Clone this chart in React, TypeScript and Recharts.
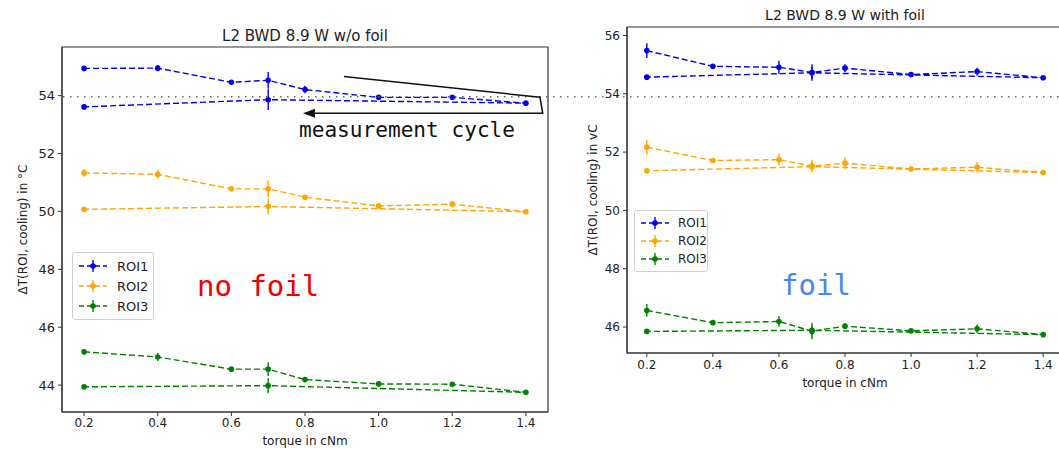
import React from 'react';
import { LineChart, Line, XAxis, YAxis, ErrorBar, ReferenceArea, Legend } from 'recharts';

// measurement cycle order of torque values (up to 1.4, then back via 0.7 to 0.2)
const cycleTorque = [0.2, 0.4, 0.6, 0.7, 0.8, 1.0, 1.2, 1.4, 0.7, 0.2];
const xTicks = [0.2, 0.4, 0.6, 0.8, 1.0, 1.2, 1.4];
const leftYTicks = [44, 46, 48, 50, 52, 54];
const rightYTicks = [46, 48, 50, 52, 54, 56];
const seriesNames = ['ROI1', 'ROI2', 'ROI3'];
const seriesColors = ['#0000ee', '#ffa500', '#008000'];

// L2 BWD 8.9 W w/o foil
const noFoilROI1 = [54.94, 54.95, 54.46, 54.53, 54.21, 53.94, 53.94, 53.74, 53.86, 53.61];
const noFoilROI1Err = [0.05, 0.11, 0.04, 0.29, 0.13, 0.03, 0.05, 0.03, 0.36, 0.04];
const noFoilROI2 = [51.33, 51.28, 50.78, 50.78, 50.49, 50.19, 50.25, 49.99, 50.17, 50.07];
const noFoilROI2Err = [0.13, 0.15, 0.04, 0.28, 0.06, 0.04, 0.11, 0.03, 0.27, 0.04];
const noFoilROI3 = [45.15, 44.97, 44.55, 44.55, 44.19, 44.04, 44.03, 43.75, 43.98, 43.94];
const noFoilROI3Err = [0.1, 0.14, 0.04, 0.24, 0.05, 0.05, 0.05, 0.03, 0.26, 0.03];

// L2 BWD 8.9 W with foil
const foilROI1 = [55.48, 54.94, 54.91, 54.73, 54.88, 54.66, 54.76, 54.55, 54.72, 54.57];
const foilROI1Err = [0.25, 0.05, 0.22, 0.28, 0.13, 0.04, 0.13, 0.04, 0.2, 0.04];
const foilROI2 = [52.17, 51.71, 51.74, 51.52, 51.62, 51.42, 51.48, 51.3, 51.5, 51.36];
const foilROI2Err = [0.25, 0.06, 0.2, 0.22, 0.2, 0.05, 0.18, 0.04, 0.15, 0.04];
const foilROI3 = [46.57, 46.15, 46.19, 45.86, 46.03, 45.87, 45.94, 45.74, 45.89, 45.85];
const foilROI3Err = [0.22, 0.04, 0.18, 0.28, 0.08, 0.05, 0.15, 0.04, 0.15, 0.04];

const xDomain: [number, number] = [0.14, 1.46];
const leftYDomain: [number, number] = [43.07, 55.68];
const rightYDomain: [number, number] = [45.11, 56.29];

const mk = (ys: number[], errs: number[]) => cycleTorque.map((x, i) => ({ x, y: ys[i], err: errs[i] }));

const leftSeries = [mk(noFoilROI1, noFoilROI1Err), mk(noFoilROI2, noFoilROI2Err), mk(noFoilROI3, noFoilROI3Err)];
const rightSeries = [mk(foilROI1, foilROI1Err), mk(foilROI2, foilROI2Err), mk(foilROI3, foilROI3Err)];

const FONT = 'DejaVu Sans, sans-serif';
const MONO = 'DejaVu Sans Mono, monospace';

const makeLegend = (fontSize: number, rowH: number, w: number) => () => (
  <div
    style={{
      background: '#fff',
      border: '1px solid #d0d0d0',
      borderRadius: 3,
      width: w,
      padding: '3px 0',
      boxSizing: 'border-box',
      fontFamily: FONT,
      fontSize,
      color: '#222',
    }}
  >
    {seriesNames.map((n, i) => (
      <div key={n} style={{ display: 'flex', alignItems: 'center', height: rowH }}>
        <svg width={36} height={rowH} style={{ marginLeft: 4 }}>
          <line x1={2} x2={30} y1={rowH / 2} y2={rowH / 2} stroke={seriesColors[i]} strokeWidth={1.3} strokeDasharray="5 3" />
          <line x1={16} x2={16} y1={rowH / 2 - 6} y2={rowH / 2 + 6} stroke={seriesColors[i]} strokeWidth={1.4} />
          <circle cx={16} cy={rowH / 2} r={2.8} fill={seriesColors[i]} />
        </svg>
        <span style={{ marginLeft: 4 }}>{n}</span>
      </div>
    ))}
  </div>
);

const yLabel = (text: string, unit: string, dx: number, fontSize: number) => (props: any) => {
  const vb = props.viewBox || { x: 0, y: 0, width: 0, height: 0 };
  const x = vb.x + dx;
  const y = vb.y + vb.height / 2;
  return (
    <text
      x={x}
      y={y}
      transform={`rotate(-90 ${x} ${y})`}
      textAnchor="middle"
      dominantBaseline="central"
      fontFamily={FONT}
      fontSize={fontSize}
      fill="#222"
    >
      ΔT<tspan>{text}</tspan>
      <tspan>{unit}</tspan>
    </text>
  );
};

const xLabel = (text: string, dy: number, fontSize: number) => (props: any) => {
  const vb = props.viewBox || { x: 0, y: 0, width: 0, height: 0 };
  return (
    <text
      x={vb.x + vb.width / 2}
      y={vb.y + dy}
      textAnchor="middle"
      dominantBaseline="central"
      fontFamily={FONT}
      fontSize={fontSize}
      fill="#222"
    >
      {text}
    </text>
  );
};

const renderSeries = (series: { x: number; y: number; err: number }[][]) =>
  series.map((d, i) => (
    <Line
      key={seriesNames[i]}
      name={seriesNames[i]}
      data={d}
      dataKey="y"
      type="linear"
      stroke={seriesColors[i]}
      strokeWidth={1.4}
      strokeDasharray="6 3"
      dot={{ r: 2.8, fill: seriesColors[i], stroke: seriesColors[i], strokeWidth: 0 }}
      activeDot={false}
      isAnimationActive={false}
    >
      <ErrorBar dataKey="err" width={0} stroke={seriesColors[i]} strokeWidth={1.4} direction="y" />
    </Line>
  ));

export default function App() {
  return (
    <div
      style={{
        position: 'fixed',
        left: 0,
        top: 0,
        width: 1059,
        height: 449,
        overflow: 'hidden',
        background: '#fff',
      }}
    >
      <div style={{ position: 'absolute', left: 0, top: 0 }}>
        <LineChart width={560} height={470} margin={{ top: 47, right: 12, bottom: 18, left: 12 }}>
          <XAxis
            type="number"
            dataKey="x"
            domain={xDomain}
            ticks={xTicks}
            allowDataOverflow
            tickFormatter={(v: number) => v.toFixed(1)}
            tick={{ fontSize: 12, fill: '#222', fontFamily: FONT }}
            tickSize={4}
            tickMargin={2}
            height={40}
            stroke="#333"
            label={{ content: xLabel('torque in cNm', 29, 12) } as any}
          />
          <YAxis
            type="number"
            domain={leftYDomain}
            ticks={leftYTicks}
            allowDataOverflow
            tick={{ fontSize: 13, fill: '#222', fontFamily: FONT }}
            tickSize={4}
            tickMargin={3}
            width={50}
            stroke="#333"
            label={{ content: yLabel('(ROI, cooling) in ', '°C', 11, 12) } as any}
          />
          <ReferenceArea
            x1={xDomain[0]}
            x2={xDomain[1]}
            y1={leftYDomain[0]}
            y2={leftYDomain[1]}
            fill="none"
            stroke="#333"
            strokeWidth={1.2}
            ifOverflow="visible"
          />
          {renderSeries(leftSeries)}
          <Legend
            layout="vertical"
            align="center"
            verticalAlign="middle"
            wrapperStyle={{ left: 72, top: 252, width: 82 }}
            content={makeLegend(13, 20, 82)}
          />
        </LineChart>
      </div>

      <div style={{ position: 'absolute', left: 570, top: 0 }}>
        <LineChart width={500} height={400} margin={{ top: 27, right: 7, bottom: 7, left: 7 }}>
          <XAxis
            type="number"
            dataKey="x"
            domain={xDomain}
            ticks={xTicks}
            allowDataOverflow
            tickFormatter={(v: number) => v.toFixed(1)}
            tick={{ fontSize: 12, fill: '#222', fontFamily: FONT }}
            tickSize={4}
            tickMargin={3}
            height={40}
            stroke="#333"
            label={{ content: xLabel('torque in cNm', 30, 12) } as any}
          />
          <YAxis
            type="number"
            domain={rightYDomain}
            ticks={rightYTicks}
            allowDataOverflow
            tick={{ fontSize: 12, fill: '#222', fontFamily: FONT }}
            tickSize={4}
            tickMargin={3}
            width={50}
            stroke="#333"
            label={{ content: yLabel('(ROI, cooling) in ', 'vC', 16, 12) } as any}
          />
          <ReferenceArea
            x1={xDomain[0]}
            x2={xDomain[1]}
            y1={rightYDomain[0]}
            y2={rightYDomain[1]}
            fill="none"
            stroke="#333"
            strokeWidth={1.2}
            ifOverflow="visible"
          />
          {renderSeries(rightSeries)}
          <Legend
            layout="vertical"
            align="center"
            verticalAlign="middle"
            wrapperStyle={{ left: 64, top: 210, width: 74 }}
            content={makeLegend(12, 18, 74)}
          />
        </LineChart>
      </div>

      <svg
        width={1059}
        height={449}
        style={{ position: 'absolute', left: 0, top: 0, pointerEvents: 'none' }}
      >
        <text x={305} y={36} textAnchor="middle" dominantBaseline="central" fontFamily={FONT} fontSize={15} fill="#222">
          L2 BWD 8.9 W w/o foil
        </text>
        <text x={845} y={15} textAnchor="middle" dominantBaseline="central" fontFamily={FONT} fontSize={14} fill="#222">
          L2 BWD 8.9 W with foil
        </text>
        <line x1={63} x2={1059} y1={96.7} y2={96.7} stroke="#666" strokeWidth={1.5} strokeDasharray="1.5 5.5" />
        <polyline
          points="344,76.5 540,97.3 542.7,113.3 314,113.3"
          fill="none"
          stroke="#111"
          strokeWidth={1.5}
        />
        <polygon points="303,113.3 315,108.8 315,117.8" fill="#111" />
        <text
          x={299}
          y={129.5}
          dominantBaseline="central"
          fontFamily={MONO}
          fontSize={21}
          fill="#111"
          textLength={216}
          lengthAdjust="spacingAndGlyphs"
        >
          measurement cycle
        </text>
        <text x={197} y={286} dominantBaseline="central" fontFamily={MONO} fontSize={29} fill="#ee0000">
          no foil
        </text>
        <text x={781} y={285} dominantBaseline="central" fontFamily={MONO} fontSize={29} fill="#4a86e8">
          foil
        </text>
      </svg>
    </div>
  );
}
